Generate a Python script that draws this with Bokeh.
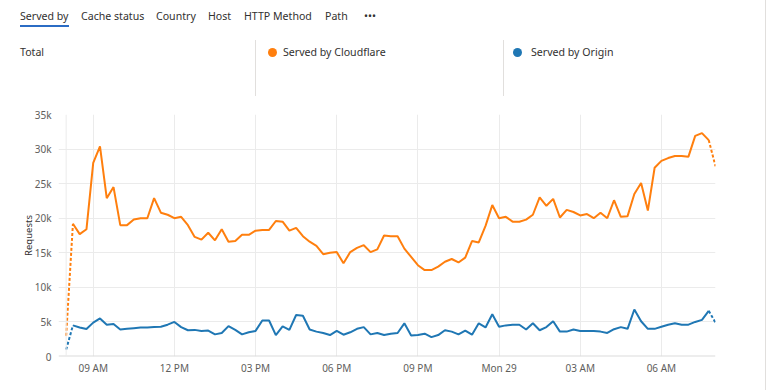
import datetime as dt
from bokeh.plotting import figure
from bokeh.layouts import column
from bokeh.models import Span, FixedTicker, Range1d, Div, Label
from bokeh.embed import file_html
from bokeh.resources import INLINE

# ---------------- data ----------------
start_time = dt.datetime(2024, 1, 28, 8, 0)
step_minutes = 15

cloudflare = [3.0, 19.2, 17.7, 18.4, 28.0, 30.4, 22.9, 24.5, 19.0, 19.0, 19.8, 20.0, 20.0, 22.9, 20.8, 20.5,
              20.0, 20.2, 19.0, 17.3, 16.9, 17.9, 16.8, 18.4, 16.6, 16.7, 17.6, 17.6, 18.2, 18.3, 18.3, 19.6,
              19.5, 18.2, 18.6, 17.4, 16.6, 16.0, 14.8, 15.0, 15.1, 13.5, 15.1, 15.7, 16.1, 15.1, 15.5, 17.5,
              17.4, 17.4, 15.6, 14.4, 13.2, 12.5, 12.5, 13.0, 13.7, 14.1, 13.6, 14.3, 16.7, 16.5, 18.9, 21.9,
              20.0, 20.2, 19.5, 19.5, 19.8, 20.5, 23.0, 21.8, 22.8, 20.1, 21.2, 20.9, 20.4, 20.6, 20.0, 20.8,
              20.0, 22.6, 20.2, 20.3, 23.5, 25.1, 21.1, 27.3, 28.3, 28.7, 29.0, 29.0, 28.9, 31.9, 32.3, 31.3,
              27.5]
origin = [1.0, 4.5, 4.2, 3.97, 4.9, 5.5, 4.6, 4.7, 3.9, 4.0, 4.1, 4.2, 4.2, 4.25, 4.3, 4.6,
          5.0, 4.25, 3.8, 3.85, 3.7, 3.75, 3.2, 3.4, 4.4, 3.85, 3.2, 3.5, 3.7, 5.2, 5.2, 3.1,
          4.35, 3.85, 6.0, 5.9, 3.9, 3.6, 3.4, 3.1, 3.7, 3.15, 3.5, 4.0, 4.25, 3.2, 3.4, 3.1,
          3.3, 3.4, 4.8, 3.05, 3.1, 3.3, 2.8, 3.1, 3.8, 3.6, 3.2, 3.75, 3.15, 4.8, 4.2, 6.1,
          4.3, 4.5, 4.6, 4.6, 3.9, 4.8, 3.8, 4.25, 5.1, 3.6, 3.6, 3.9, 3.7, 3.7, 3.7, 3.6,
          3.4, 3.95, 4.25, 4.0, 6.8, 5.1, 4.0, 4.0, 4.3, 4.6, 4.8, 4.6, 4.6, 5.0, 5.3, 6.6,
          4.9]

y_ticks = [0, 5000, 10000, 15000, 20000, 25000, 30000, 35000]
y_tick_labels = ["0", "5k", "10k", "15k", "20k", "25k", "30k", "35k"]
x_tick_times = [dt.datetime(2024, 1, 28, 9), dt.datetime(2024, 1, 28, 12), dt.datetime(2024, 1, 28, 15),
                dt.datetime(2024, 1, 28, 18), dt.datetime(2024, 1, 28, 21), dt.datetime(2024, 1, 29, 0),
                dt.datetime(2024, 1, 29, 3), dt.datetime(2024, 1, 29, 6)]
x_tick_labels = ["09 AM", "12 PM", "03 PM", "06 PM", "09 PM", "Mon 29", "03 AM", "06 AM"]

tabs = ["Served by", "Cache status", "Country", "Host", "HTTP Method", "Path", "\u2022\u2022\u2022"]
total_label = "Total"
series_names = ["Served by Cloudflare", "Served by Origin"]
colors = ["#ff7f0e", "#1f77b4"]
y_title = "Requests"
x_title = "Time (local)"

# ---------------- helpers ----------------
def ms(t):
    return (t - dt.datetime(1970, 1, 1)).total_seconds() * 1000.0

times = [start_time + dt.timedelta(minutes=step_minutes * i) for i in range(len(cloudflare))]
xs = [ms(t) for t in times]
cf = [v * 1000 for v in cloudflare]
og = [v * 1000 for v in origin]

FONT = "Noto Sans"
TEXT = "#323130"
W = 765
H_HEAD = 104
H_MAIN = 286
HEAD_FS = 10.6

# ---------------- header (HTML) ----------------
def txt(x, cy, s, size=HEAD_FS):
    lh = 16
    return (f'<span style="position:absolute;left:{x}px;top:{cy - lh / 2}px;line-height:{lh}px;'
            f'font-size:{size}px;white-space:nowrap;">{s}</span>')

def box(x, y, w, hgt, col, radius=0):
    return (f'<div style="position:absolute;left:{x}px;top:{y}px;width:{w}px;height:{hgt}px;'
            f'background:{col};border-radius:{radius}px;"></div>')

tab_x = [20, 81, 156, 208, 244, 325, 364]
parts = [txt(x, 16, t) for t, x in zip(tabs, tab_x)]
parts.append(box(20, 25, 49, 2, "#2b6cc4"))
parts.append(txt(20, 52, total_label))
parts += [box(x, 40, 1, 56, "#e1dfdd") for x in (255, 503)]
for name, col, dx, tx in zip(series_names, colors, [272, 517], [283, 531]):
    parts.append(box(dx - 4.5, 52 - 4.5, 9, 9, col, radius=5))
    parts.append(txt(tx, 52, name))
html = (f'<div style="position:relative;width:{W}px;height:{H_HEAD}px;font-family:\'{FONT}\';'
        f'color:{TEXT};">' + "".join(parts) + "</div>")
header = Div(text=html, width=W, height=H_HEAD, margin=0)

# ---------------- main figure ----------------
FL, FT, FR, FB_PAGE = 58, 114, 715, 356  # frame edges in page coords
p = figure(width=W, height=H_MAIN, output_backend="svg", toolbar_location=None,
           x_axis_type="datetime",
           x_range=Range1d(ms(start_time - dt.timedelta(minutes=17)), ms(times[-1])),
           y_range=Range1d(0, 35000),
           min_border_left=FL, min_border_right=W - FR,
           min_border_top=FT - H_HEAD, min_border_bottom=H_HEAD + H_MAIN - FB_PAGE)
p.outline_line_color = None

p.xgrid.grid_line_color = "#ebebeb"
p.ygrid.grid_line_color = "#ebebeb"

p.yaxis.ticker = FixedTicker(ticks=y_ticks)
p.yaxis.major_label_overrides = {t: l for t, l in zip(y_ticks, y_tick_labels)}
p.xaxis.ticker = FixedTicker(ticks=[ms(t) for t in x_tick_times])
p.xaxis.major_label_overrides = {ms(t): l for t, l in zip(x_tick_times, x_tick_labels)}
for ax in (p.xaxis[0], p.yaxis[0]):
    ax.axis_line_color = None
    ax.major_tick_line_color = None
    ax.minor_tick_line_color = None
    ax.major_tick_out = 0
    ax.major_tick_in = 0
    ax.minor_tick_out = 0
    ax.major_label_text_font = FONT
    ax.major_label_text_font_size = "10px"
    ax.major_label_text_color = "#605e5c"
    ax.axis_label_text_font = FONT
    ax.axis_label_text_font_size = "9.5px"
    ax.axis_label_text_font_style = "normal"
    ax.axis_label_text_color = TEXT
p.yaxis.major_label_standoff = 7
p.xaxis.major_label_standoff = 4
p.yaxis.axis_label = y_title
p.yaxis.axis_label_standoff = -3

p.add_layout(Span(location=0, dimension="width", line_color="#dcdcdc", line_width=2))
p.add_layout(Span(location=xs[0], dimension="height", line_color="#ebebeb", line_width=1))

for vals, col in zip([cf, og], colors):
    p.line(xs[1:-1], vals[1:-1], line_color=col, line_width=2)
    p.line(xs[:2], vals[:2], line_color=col, line_width=2, line_dash="3 2")
    p.line(xs[-2:], vals[-2:], line_color=col, line_width=2, line_dash="3 2")

# x axis title (screen units are relative to the plot frame)
p.add_layout(Label(x=389 - FL, y=FB_PAGE - 381, x_units="screen", y_units="screen", text=x_title,
                   text_font=FONT, text_font_size="9.5px", text_color=TEXT,
                   text_align="center", text_baseline="middle"))

layout = column(header, p, spacing=0, styles={"border-right": "1px solid #e1dfdd"})
open("out.html", "w").write(file_html(layout, INLINE))
